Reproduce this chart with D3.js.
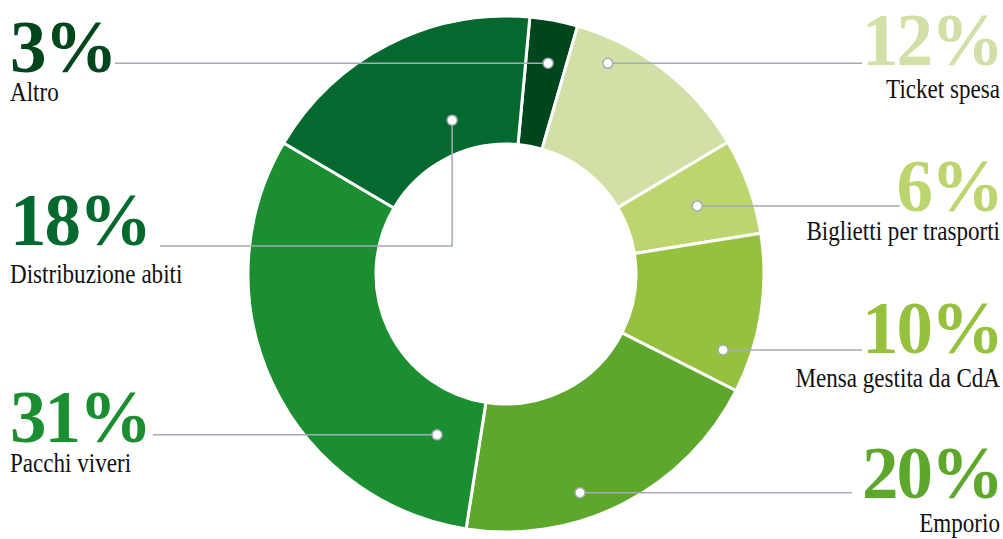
<!DOCTYPE html>
<html>
<head>
<meta charset="utf-8">
<script src="https://cdn.jsdelivr.net/npm/d3@7"></script>
<style>
  body { margin: 0; background: #fff; }
  svg { display: block; }
  .pct { font-family: "Liberation Serif", serif; font-weight: bold; font-size: 73px; letter-spacing: -2px; }
  .lbl { font-family: "Liberation Serif", serif; font-size: 27px; fill: #111; }
</style>
</head>
<body>
<script>
// data, clockwise from the top
const categories = ["Altro", "Ticket spesa", "Biglietti per trasporti", "Mensa gestita da CdA",
  "Emporio", "Pacchi viveri", "Distribuzione abiti"];
const values = [3, 12, 6, 10, 20, 31, 18];
const colors = ["#00461c", "#d0e0a7", "#bdd56e", "#96c13e", "#5ea72d", "#1a8e31", "#04692e"];

// label layout: side, pct baseline, label baseline, leader y, dot angle (deg) / radius
const layout = [
  { side: "left",  base: 72,  sub: 101, line: 63,  ang: 11.3,  r: 215, lx: 115 },
  { side: "right", base: 65,  sub: 98,  line: 63,  ang: 25.8,  r: 234, lx: 862 },
  { side: "right", base: 211, sub: 240, line: 206, ang: 70.4,  r: 203, lx: 900 },
  { side: "right", base: 353, sub: 387, line: 350, ang: 109.3, r: 230, lx: 862 },
  { side: "right", base: 498, sub: 532, line: 494, ang: 161.3, r: 231, lx: 852 },
  { side: "left",  base: 442, sub: 472, line: 435, ang: 203.2, r: 175, lx: 153 },
  { side: "left",  base: 245, sub: 283, line: 246, ang: 340.7, r: 163, lx: 160, elbow: true }
];

const W = 1003, H = 539, cx = 506, cy = 274, R = 258, r0 = 130;
const offset = 5.3 * Math.PI / 180;

const svg = d3.select("body").append("svg").attr("width", W).attr("height", H);

const pie = d3.pie().sort(null).value(d => d)
  .startAngle(offset).endAngle(offset + 2 * Math.PI);
const arc = d3.arc().innerRadius(r0).outerRadius(R);

const g = svg.append("g").attr("transform", `translate(${cx},${cy})`);
g.selectAll("path")
  .data(pie(values))
  .join("path")
  .attr("d", arc)
  .attr("fill", (d, i) => colors[i])
  .attr("stroke", "#fff")
  .attr("stroke-width", 3);

// leader lines + dots
const lines = svg.append("g");
layout.forEach((L, i) => {
  const p = d3.pointRadial(L.ang * Math.PI / 180, L.r);
  const dx = cx + p[0], dy = cy + p[1];
  let pts;
  if (L.elbow) pts = [[L.lx, L.line], [dx, L.line], [dx, dy]];
  else pts = [[L.lx, dy], [dx, dy]];
  lines.append("path")
    .attr("d", d3.line()(pts))
    .attr("fill", "none")
    .attr("stroke", "#a3acb4")
    .attr("stroke-width", 1.5);
  lines.append("circle")
    .attr("cx", dx).attr("cy", dy).attr("r", 5)
    .attr("fill", "#fff")
    .attr("stroke", "#a3acb4")
    .attr("stroke-width", 1.5);
});

// labels
const labels = svg.append("g");
layout.forEach((L, i) => {
  const left = L.side === "left";
  const x = left ? 10 : 1000;
  const anchor = left ? "start" : "end";
  labels.append("text")
    .attr("class", "pct")
    .attr("x", left ? x : x + 2).attr("y", L.base)
    .attr("text-anchor", anchor)
    .attr("fill", colors[i])
    .text(values[i] + "%");
  labels.append("text")
    .attr("class", "lbl")
    .attr("transform", `translate(${x},${L.sub}) scale(0.855,1)`)
    .attr("text-anchor", anchor)
    .text(categories[i]);
});
</script>
</body>
</html>
